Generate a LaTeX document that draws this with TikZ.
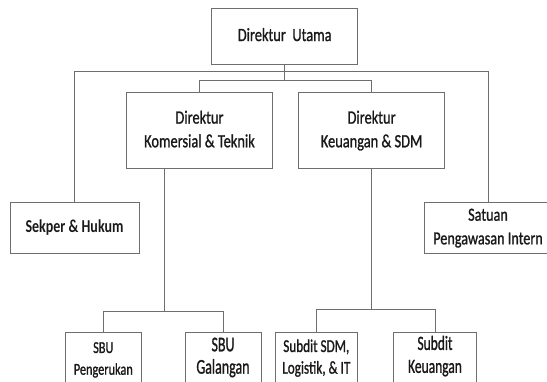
\documentclass[tikz,border=0pt]{standalone}
\usepackage{fontspec}
\setmainfont{Carlito}[UprightFeatures={FakeBold=1.2}]
\usepackage{graphicx}
\definecolor{linegray}{RGB}{110,110,110}
\definecolor{txtcol}{RGB}{25,25,25}
\tikzset{
  orgbox/.style={draw=linegray, line width=0.9pt, rectangle, inner sep=0pt, fill=white, text=txtcol},
  txtnode/.style={inner sep=0pt, text=txtcol},
  conn/.style={draw=linegray, line width=0.9pt},
}
\newcommand{\boxtext}[4]{\scalebox{1}[#1]{\fontsize{#2}{#3}\selectfont\begin{tabular}{@{}c@{}}#4\end{tabular}}}
\begin{document}
\begin{tikzpicture}[x=1pt,y=-1pt]
\useasboundingbox (0,0) rectangle (547,381);
\clip (0,0) rectangle (547,381);
% top level
\node[orgbox, minimum width=146pt, minimum height=55.3pt] (utama) at (284.7,36.3)
  {\boxtext{1.3}{14.4}{18.2}{Direktur~~Utama}};
% directors
\node[orgbox, minimum width=146pt, minimum height=76pt] (komersial) at (199.5,130.7)
  {\boxtext{1.3}{14.4}{18.2}{Direktur\\Komersial \& Teknik}};
\node[orgbox, minimum width=146pt, minimum height=76pt] (keuangan) at (371.6,130.7)
  {\boxtext{1.3}{14.4}{18.2}{Direktur\\Keuangan \& SDM}};
% staff units
\node[orgbox, minimum width=129pt, minimum height=51pt] (sekper) at (74.5,227.8)
  {\boxtext{1.3}{14}{18.2}{\bfseries Sekper \& Hukum}};
\node[orgbox, minimum width=128pt, minimum height=51pt] (satuan) at (488,227.8)
  {\boxtext{1.3}{14.2}{18.2}{Satuan\\Pengawasan Intern}};
% bottom boxes (cut by the lower edge)
\node[orgbox, minimum width=75.3pt, minimum height=68pt] (sbup) at (103.3,366) {};
\node[orgbox, minimum width=76pt, minimum height=68pt] (sbug) at (223,366) {};
\node[orgbox, minimum width=82.7pt, minimum height=68pt] (sdm) at (316.3,366) {};
\node[orgbox, minimum width=82.3pt, minimum height=68pt] (skeu) at (435,366) {};
\node[txtnode] (sbuptxt) at (103.3,359.5) {\boxtext{1.35}{12.3}{16.1}{SBU\\Pengerukan}};
\node[txtnode] (sbugtxt) at (223,358) {\boxtext{1.5}{14}{14.9}{SBU\\Galangan}};
\node[txtnode] (sdmtxt) at (316.3,358.5) {\boxtext{1.37}{13.2}{15.8}{Subdit SDM,\\Logistik, \& IT}};
\node[txtnode] (skeutxt) at (435,356.8) {\boxtext{1.5}{13.5}{15.3}{Subdit\\Keuangan}};
% bus coordinates
\coordinate (ob) at (284.7,71);
\coordinate (ib) at (284.7,80);
\coordinate (lb) at (164.7,311);
\coordinate (rb) at (373,309.3);
\coordinate (ks) at (164.7,168.7);
% connectors
\draw[conn] (utama.south) -- (ib);
\draw[conn] (sekper.north) -- (sekper.north |- ob) -- (satuan.north |- ob) -- (satuan.north);
\draw[conn] (komersial.north) -- (komersial.north |- ib) -- (keuangan.north |- ib) -- (keuangan.north);
\draw[conn] (ks) -- (lb);
\draw[conn] (sbup.north) -- (sbup.north |- lb) -- (sbug.north |- lb) -- (sbug.north);
\draw[conn] (keuangan.south) -- (keuangan.south |- rb);
\draw[conn] (sdm.north) -- (sdm.north |- rb) -- (skeu.north |- rb) -- (skeu.north);
\end{tikzpicture}
\end{document}
